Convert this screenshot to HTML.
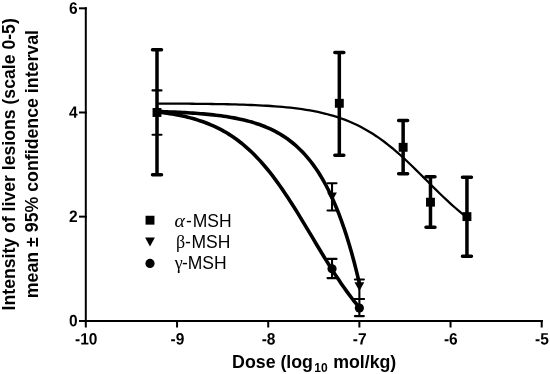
<!DOCTYPE html>
<html><head><meta charset="utf-8"><title>Dose response</title>
<style>html,body{margin:0;padding:0;background:#fff}svg{display:block}</style></head>
<body>
<svg width="550" height="374" viewBox="0 0 550 374">
<rect width="550" height="374" fill="#fff"/>
<g stroke="#000" stroke-width="2" fill="none">
<path d="M85.8,7.3 V327.5"/>
<path d="M79,320.9 H542.9"/>
<path d="M79,216.64 H86.9"/>
<path d="M79,112.48 H86.9"/>
<path d="M79,8.32 H86.9"/>
<path d="M177.06,320 V327.5"/>
<path d="M268.22,320 V327.5"/>
<path d="M359.38,320 V327.5"/>
<path d="M450.54,320 V327.5"/>
<path d="M541.70,320 V327.5"/>
</g>
<g font-family="'Liberation Sans', sans-serif" font-weight="bold" font-size="16.5" fill="#000">
<text transform="translate(77.7,326.20) scale(0.94,1) rotate(0.05)" text-anchor="end">0</text>
<text transform="translate(77.7,222.04) scale(0.94,1) rotate(0.05)" text-anchor="end">2</text>
<text transform="translate(77.7,117.88) scale(0.94,1) rotate(0.05)" text-anchor="end">4</text>
<text transform="translate(77.7,13.72) scale(0.94,1) rotate(0.05)" text-anchor="end">6</text>
<text transform="translate(86.20,344.5) scale(0.94,1) rotate(0.05)" text-anchor="middle">-10</text>
<text transform="translate(177.36,344.5) scale(0.94,1) rotate(0.05)" text-anchor="middle">-9</text>
<text transform="translate(268.52,344.5) scale(0.94,1) rotate(0.05)" text-anchor="middle">-8</text>
<text transform="translate(359.68,344.5) scale(0.94,1) rotate(0.05)" text-anchor="middle">-7</text>
<text transform="translate(450.84,344.5) scale(0.94,1) rotate(0.05)" text-anchor="middle">-6</text>
<text transform="translate(542.00,344.5) scale(0.94,1) rotate(0.05)" text-anchor="middle">-5</text>
</g>
<g font-family="'Liberation Sans', sans-serif" font-weight="bold" font-size="17.75" fill="#000">
<text transform="translate(232.1,367.8)">Dose (log<tspan font-size="12" dx="1.3" dy="4.6">10</tspan><tspan dx="0.6" dy="-4.6"> mol/kg)</tspan></text>
<text transform="translate(14.5,164.3) rotate(-90)" font-size="17.65" text-anchor="middle">Intensity of liver lesions (scale 0-5)</text>
<text transform="translate(38.1,164.1) rotate(-90)" text-anchor="middle">mean ± 95% confidence interval</text>
</g>
<path transform="translate(0,0.5)" d="M157.00,103.04 L160.93,103.06 L164.85,103.07 L168.77,103.09 L172.70,103.11 L176.62,103.13 L180.54,103.16 L184.47,103.19 L188.39,103.22 L192.31,103.25 L196.24,103.29 L200.16,103.33 L204.08,103.37 L208.01,103.42 L211.93,103.48 L215.85,103.54 L219.78,103.60 L223.70,103.68 L227.62,103.76 L231.55,103.85 L235.47,103.95 L239.39,104.07 L243.32,104.19 L247.24,104.33 L251.17,104.48 L255.09,104.65 L259.01,104.83 L262.94,105.03 L266.86,105.26 L270.78,105.51 L274.71,105.79 L278.63,106.09 L282.55,106.42 L286.48,106.79 L290.40,107.20 L294.32,107.65 L298.25,108.14 L302.17,108.69 L306.09,109.29 L310.02,109.94 L313.94,110.66 L317.86,111.45 L321.79,112.32 L325.71,113.26 L329.63,114.30 L333.56,115.43 L337.48,116.65 L341.40,117.99 L345.33,119.44 L349.25,121.02 L353.17,122.72 L357.10,124.55 L361.02,126.53 L364.94,128.65 L368.87,130.92 L372.79,133.34 L376.71,135.92 L380.64,138.65 L384.56,141.53 L388.48,144.56 L392.41,147.74 L396.33,151.06 L400.25,154.51 L404.18,158.07 L408.10,161.74 L412.02,165.50 L415.95,169.33 L419.87,173.21 L423.79,177.12 L427.72,181.05 L431.64,184.97 L435.56,188.86 L439.49,192.71 L443.41,196.49 L447.33,200.18 L451.26,203.78 L455.18,207.26 L459.10,210.61 L463.03,213.83 L466.95,216.90" stroke="#000" stroke-width="2.3" fill="none"/>
<path d="M157.00,111.52 L159.57,111.60 L162.13,111.67 L164.69,111.75 L167.25,111.84 L169.81,111.93 L172.38,112.03 L174.94,112.14 L177.50,112.25 L180.06,112.37 L182.62,112.50 L185.18,112.64 L187.75,112.78 L190.31,112.94 L192.87,113.10 L195.43,113.28 L197.99,113.47 L200.55,113.67 L203.12,113.88 L205.68,114.11 L208.24,114.35 L210.80,114.61 L213.36,114.89 L215.92,115.18 L218.49,115.50 L221.05,115.83 L223.61,116.19 L226.17,116.57 L228.73,116.98 L231.29,117.41 L233.86,117.88 L236.42,118.37 L238.98,118.89 L241.54,119.46 L244.10,120.05 L246.66,120.69 L249.23,121.37 L251.79,122.10 L254.35,122.87 L256.91,123.69 L259.47,124.57 L262.03,125.51 L264.60,126.51 L267.16,127.58 L269.72,128.71 L272.28,129.92 L274.84,131.22 L277.41,132.59 L279.97,134.06 L282.53,135.63 L285.09,137.30 L287.65,139.08 L290.21,140.98 L292.78,143.01 L295.34,145.17 L297.90,147.47 L300.46,149.93 L303.02,152.55 L305.58,155.34 L308.15,158.32 L310.71,161.49 L313.27,164.88 L315.83,168.49 L318.39,172.34 L320.95,176.45 L323.52,180.82 L326.08,185.49 L328.64,190.47 L331.20,195.78 L333.76,201.44 L336.32,207.48 L338.89,213.91 L341.45,220.78 L344.01,228.09 L346.57,235.90 L349.13,244.22 L351.69,253.09 L354.26,262.55 L356.82,272.64 L359.38,283.40" stroke="#000" stroke-width="3.6" fill="none"/>
<path d="M157.00,111.87 L159.57,112.18 L162.13,112.50 L164.69,112.85 L167.25,113.23 L169.81,113.63 L172.38,114.05 L174.94,114.50 L177.50,114.98 L180.06,115.49 L182.62,116.04 L185.18,116.61 L187.75,117.23 L190.31,117.88 L192.87,118.58 L195.43,119.32 L197.99,120.11 L200.55,120.94 L203.12,121.82 L205.68,122.76 L208.24,123.76 L210.80,124.81 L213.36,125.93 L215.92,127.11 L218.49,128.36 L221.05,129.68 L223.61,131.08 L226.17,132.56 L228.73,134.11 L231.29,135.75 L233.86,137.48 L236.42,139.30 L238.98,141.21 L241.54,143.21 L244.10,145.32 L246.66,147.53 L249.23,149.84 L251.79,152.25 L254.35,154.77 L256.91,157.40 L259.47,160.14 L262.03,162.99 L264.60,165.95 L267.16,169.02 L269.72,172.19 L272.28,175.48 L274.84,178.87 L277.41,182.36 L279.97,185.95 L282.53,189.63 L285.09,193.40 L287.65,197.26 L290.21,201.20 L292.78,205.21 L295.34,209.28 L297.90,213.41 L300.46,217.60 L303.02,221.82 L305.58,226.07 L308.15,230.35 L310.71,234.64 L313.27,238.94 L315.83,243.23 L318.39,247.50 L320.95,251.75 L323.52,255.97 L326.08,260.15 L328.64,264.28 L331.20,268.34 L333.76,272.35 L336.32,276.27 L338.89,280.12 L341.45,283.89 L344.01,287.56 L346.57,291.14 L349.13,294.62 L351.69,298.00 L354.26,301.27 L356.82,304.44 L359.38,307.50" stroke="#000" stroke-width="3.6" fill="none"/>
<path d="M157.00,49.80 V174.65 M152.50,49.80 h9.0 M152.50,174.65 h9.0" stroke="#000" stroke-width="3.5" fill="none" stroke-linecap="round"/>
<path d="M339.32,52.50 V155.20 M334.82,52.50 h9.0 M334.82,155.20 h9.0" stroke="#000" stroke-width="3.5" fill="none" stroke-linecap="round"/>
<path d="M403.14,120.50 V173.75 M398.64,120.50 h9.0 M398.64,173.75 h9.0" stroke="#000" stroke-width="3.5" fill="none" stroke-linecap="round"/>
<path d="M430.48,176.80 V227.30 M425.98,176.80 h9.0 M425.98,227.30 h9.0" stroke="#000" stroke-width="3.5" fill="none" stroke-linecap="round"/>
<path d="M466.95,177.30 V256.20 M462.45,177.30 h9.0 M462.45,256.20 h9.0" stroke="#000" stroke-width="3.5" fill="none" stroke-linecap="round"/>
<path d="M157.00,90.40 V134.80 M152.50,90.40 h9 M152.50,134.80 h9" stroke="#000" stroke-width="2.1" fill="none" stroke-linecap="round"/>
<path d="M332.03,183.30 V210.50 M327.53,183.30 h9 M327.53,210.50 h9" stroke="#000" stroke-width="2.1" fill="none" stroke-linecap="round"/>
<path d="M359.38,279.50 V299.00 M354.88,279.50 h9 M354.88,299.00 h9" stroke="#000" stroke-width="2.1" fill="none" stroke-linecap="round"/>
<path d="M332.03,258.90 V278.10 M327.53,258.90 h9 M327.53,278.10 h9" stroke="#000" stroke-width="2.1" fill="none" stroke-linecap="round"/>
<path d="M359.38,299.00 V316.10 M354.88,299.00 h9 M354.88,316.10 h9" stroke="#000" stroke-width="2.1" fill="none" stroke-linecap="round"/>
<rect x="152.55" y="108.03" width="8.9" height="8.9" fill="#000"/>
<rect x="334.87" y="98.85" width="8.9" height="8.9" fill="#000"/>
<rect x="398.69" y="142.85" width="8.9" height="8.9" fill="#000"/>
<rect x="426.03" y="197.75" width="8.9" height="8.9" fill="#000"/>
<rect x="462.50" y="212.15" width="8.9" height="8.9" fill="#000"/>
<path d="M327.13,192.40 h9.8 L332.03,201.20 Z" fill="#000"/>
<path d="M354.48,282.30 h9.8 L359.38,291.10 Z" fill="#000"/>
<circle cx="332.03" cy="268.80" r="4.6" fill="#000"/>
<circle cx="359.38" cy="308.10" r="4.6" fill="#000"/>
<rect x="145.55" y="215.75" width="8.9" height="8.9" fill="#000"/>
<path d="M145.10,237.60 h9.8 L150.00,246.40 Z" fill="#000"/>
<circle cx="150.00" cy="263.40" r="4.6" fill="#000"/>
<g font-family="'Liberation Sans', sans-serif" font-size="17.5" fill="#000">
<text y="226.6"><tspan x="174.6" font-family="'Liberation Serif', 'DejaVu Serif', serif" font-style="italic" font-size="18.5" textLength="10.4" lengthAdjust="spacingAndGlyphs">α</tspan><tspan x="186.0">-</tspan><tspan x="192.7">MSH</tspan></text>
<text y="247.8"><tspan x="176.0" font-family="'Liberation Serif', 'DejaVu Serif', serif" font-style="normal" font-size="18">β</tspan><tspan x="184.9">-</tspan><tspan x="191.5">MSH</tspan></text>
<text y="269.4"><tspan x="174.8" font-family="'Liberation Serif', 'DejaVu Serif', serif" font-style="normal" font-size="18">γ</tspan><tspan x="181.9">-</tspan><tspan x="187.7">MSH</tspan></text>
</g>
</svg>
</body></html>
